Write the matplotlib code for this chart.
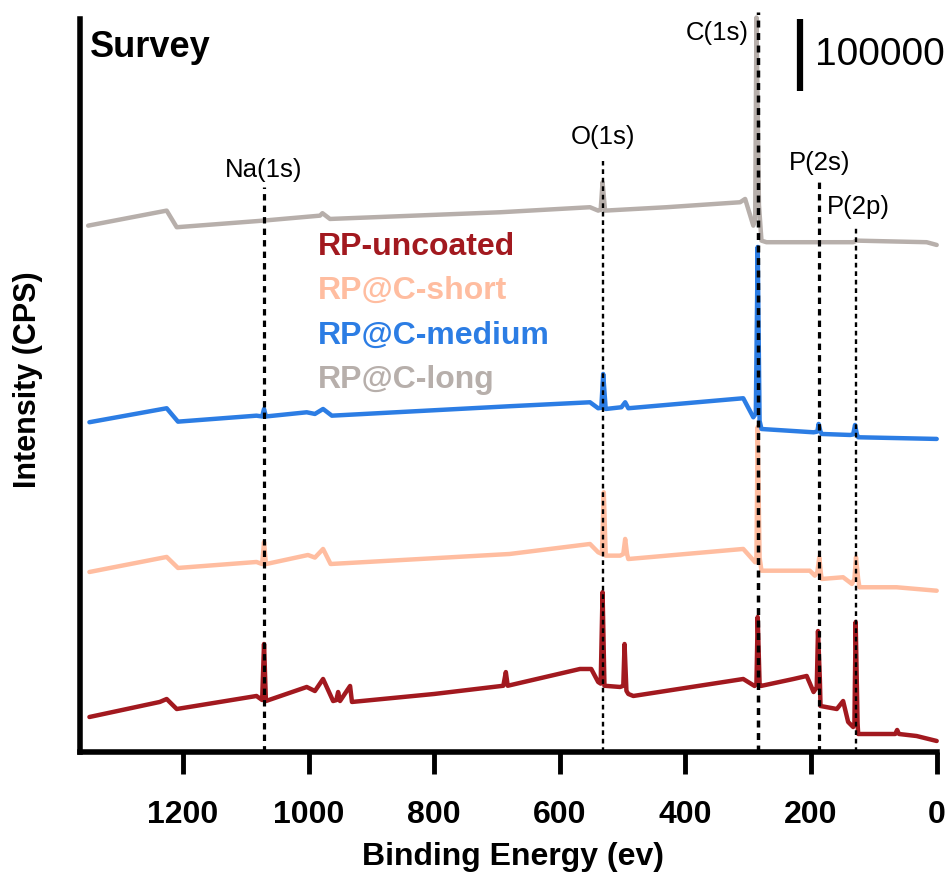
import matplotlib
matplotlib.use('Agg')
from matplotlib import pyplot as plt

plt.rcParams['font.family'] = ['Liberation Sans', 'DejaVu Sans']

# binding energy (eV) / intensity (kCPS, already stacked)
be_uncoated = [1349, 1237, 1226, 1210, 1083, 1074, 1071, 1068, 1003, 990, 977, 961, 956, 953, 950,
               934, 931, 800, 690, 686, 683, 568, 550, 539, 535, 532, 529, 504, 499, 497, 494, 491,
               483, 308, 290, 287, 285, 282, 280, 228, 207, 196, 191, 189, 186, 185, 159, 149, 141,
               133, 131, 129, 126, 125, 66, 63, 60, 32, 0]
kcps_uncoated = [48.6, 69.5, 73.6, 59.7, 77.8, 72.2, 150, 70.8, 90.3, 84.7, 101.4, 70.8, 72, 83.3,
                 70.8, 91.7, 69.5, 80.6, 92, 111, 92, 115.3, 115.3, 97.2, 95, 222, 92, 90.3, 92,
                 150, 85, 80.6, 77.8, 101.4, 91.7, 95, 187.5, 95, 91.7, 101.4, 105.6, 83.3, 90,
                 168, 100, 63.9, 59.7, 70.8, 41.7, 34.7, 40, 180.6, 40, 25, 25, 30.6, 25, 22.2, 15.3]

be_short = [1349, 1226, 1208, 1083, 1074, 1071, 1068, 1001, 990, 977, 965, 680, 552, 539, 533, 530,
            527, 504, 499, 496, 493, 491, 308, 289, 287, 285, 282, 279, 202, 194, 190, 187, 184, 183,
            149, 135, 131, 128.5, 125, 123, 64, 0]
kcps_short = [250, 270.9, 255.6, 263.9, 261, 291.7, 261, 273.6, 270, 282, 261.1, 275, 288.9, 277.4,
              275, 360.7, 272.7, 272.7, 275, 295.9, 275, 268, 282, 263.5, 270, 451.4, 270, 251.8,
              251.8, 244.9, 250, 270.4, 245, 240.3, 242.7, 233.4, 240, 270.4, 240, 228.8, 228.8, 224]

be_medium = [1349, 1226, 1208, 1083, 1074, 1071, 1068, 1003, 990, 977, 963, 680, 552, 539, 534,
             531, 527, 502, 496, 491, 308, 292, 288, 285, 282, 279, 196, 190, 188, 185, 183, 138,
             133, 130, 127, 125, 0]
kcps_medium = [458, 477.4, 458.8, 467.1, 466, 476.4, 466, 471.8, 469.5, 476.4, 467.1, 480.2, 485.7,
               477.4, 478, 525, 476.4, 478.8, 485.7, 477.4, 491.3, 464.9, 470, 701.4, 460, 448.6,
               444, 445, 455.6, 445, 441.7, 440.3, 441, 454.2, 441, 437.1, 434.8]

be_long = [1351, 1226, 1210, 1072, 982, 978, 966, 695, 552, 539, 535, 532, 528, 430, 313, 305, 292,
           289, 287, 283, 279, 271, 133, 127.5, 16, 0]
kcps_long = [731, 751.9, 728.8, 738, 744.9, 748.3, 740.3, 749.6, 756.6, 751.9, 753, 791.3, 751.9,
             756.6, 763.5, 768.1, 731, 740, 1020, 760, 710.2, 708, 708, 710.2, 708, 704.2]

sample_names = ['RP-uncoated', 'RP@C-short', 'RP@C-medium', 'RP@C-long']
sample_colors = ['#A2191F', '#FFBDA0', '#2C7DE4', '#B7AFAB']

# core level positions (eV)
peak_names = ['Na(1s)', 'O(1s)', 'C(1s)', 'P(2s)', 'P(2p)']
peak_be = [1071, 531, 284, 188, 128]
line_top = [785, 821, 1028, 796, 731]
line_width = [2.3, 1.7, 2.5, 2.3, 1.7]

fig = plt.figure(figsize=(9.52, 8.79), dpi=100)
ax = fig.add_axes([80 / 952, 126 / 879, 856.7 / 952, 733 / 879])

series = [(be_uncoated, kcps_uncoated), (be_short, kcps_short),
          (be_medium, kcps_medium), (be_long, kcps_long)]
for (be, kcps), c in zip(series, sample_colors):
    ax.plot(be, kcps, color=c, lw=3.2, solid_joinstyle='round', solid_capstyle='round',
            clip_on=False, zorder=2)

# dashed guides for each core level
for be, top, lw in zip(peak_be, line_top, line_width):
    ax.plot([be, be], [0, top], color='black', lw=lw, ls=(0, (2.0, 1.6)),
            clip_on=False, zorder=3)

ax.text(1071, 810, 'Na(1s)', fontsize=18.5, ha='center', va='center')
ax.text(531, 856, 'O(1s)', fontsize=18.5, ha='center', va='center')
ax.text(299, 1000, 'C(1s)', fontsize=18.5, ha='right', va='center')
ax.text(186, 820, 'P(2s)', fontsize=18.5, ha='center', va='center')
ax.text(125, 758, 'P(2p)', fontsize=18.5, ha='center', va='center')

# legend as coloured text
for i, (name, c) in enumerate(zip(sample_names, sample_colors)):
    ax.text(985, 703.3 - i * 61.7, name, color=c, fontsize=23, fontweight='bold',
            ha='left', va='center')

# 100000 CPS scale bar
ax.plot([218, 218], [918, 1018], color='black', lw=4.5, solid_capstyle='butt', clip_on=False)
ax.text(194, 969, '100000', fontsize=28, ha='left', va='center')

ax.text(1348, 980, 'Survey', fontsize=26, fontweight='bold', ha='left', va='center')

ax.set_xlim(1364, 0)
ax.set_ylim(0, 1018)
ax.set_xticks([1200, 1000, 800, 600, 400, 200, 0])
ax.set_yticks([])
for s in ['top', 'right']:
    ax.spines[s].set_visible(False)
for s in ['left', 'bottom']:
    ax.spines[s].set_linewidth(4)
ax.tick_params(axis='x', length=16, width=3.5, pad=18, labelsize=23)
for lab in ax.get_xticklabels():
    lab.set_fontweight('bold')

ax.set_xlabel('Binding Energy (ev)', fontsize=23, fontweight='bold')
ax.xaxis.set_label_coords(0.505, -0.142)
ax.xaxis.label.set_va('center')
ax.set_ylabel('Intensity (CPS)', fontsize=22, fontweight='bold')
ax.yaxis.set_label_coords(-0.0607, 0.509)
ax.yaxis.label.set_va('center')

plt.savefig('out.png', dpi=100)
